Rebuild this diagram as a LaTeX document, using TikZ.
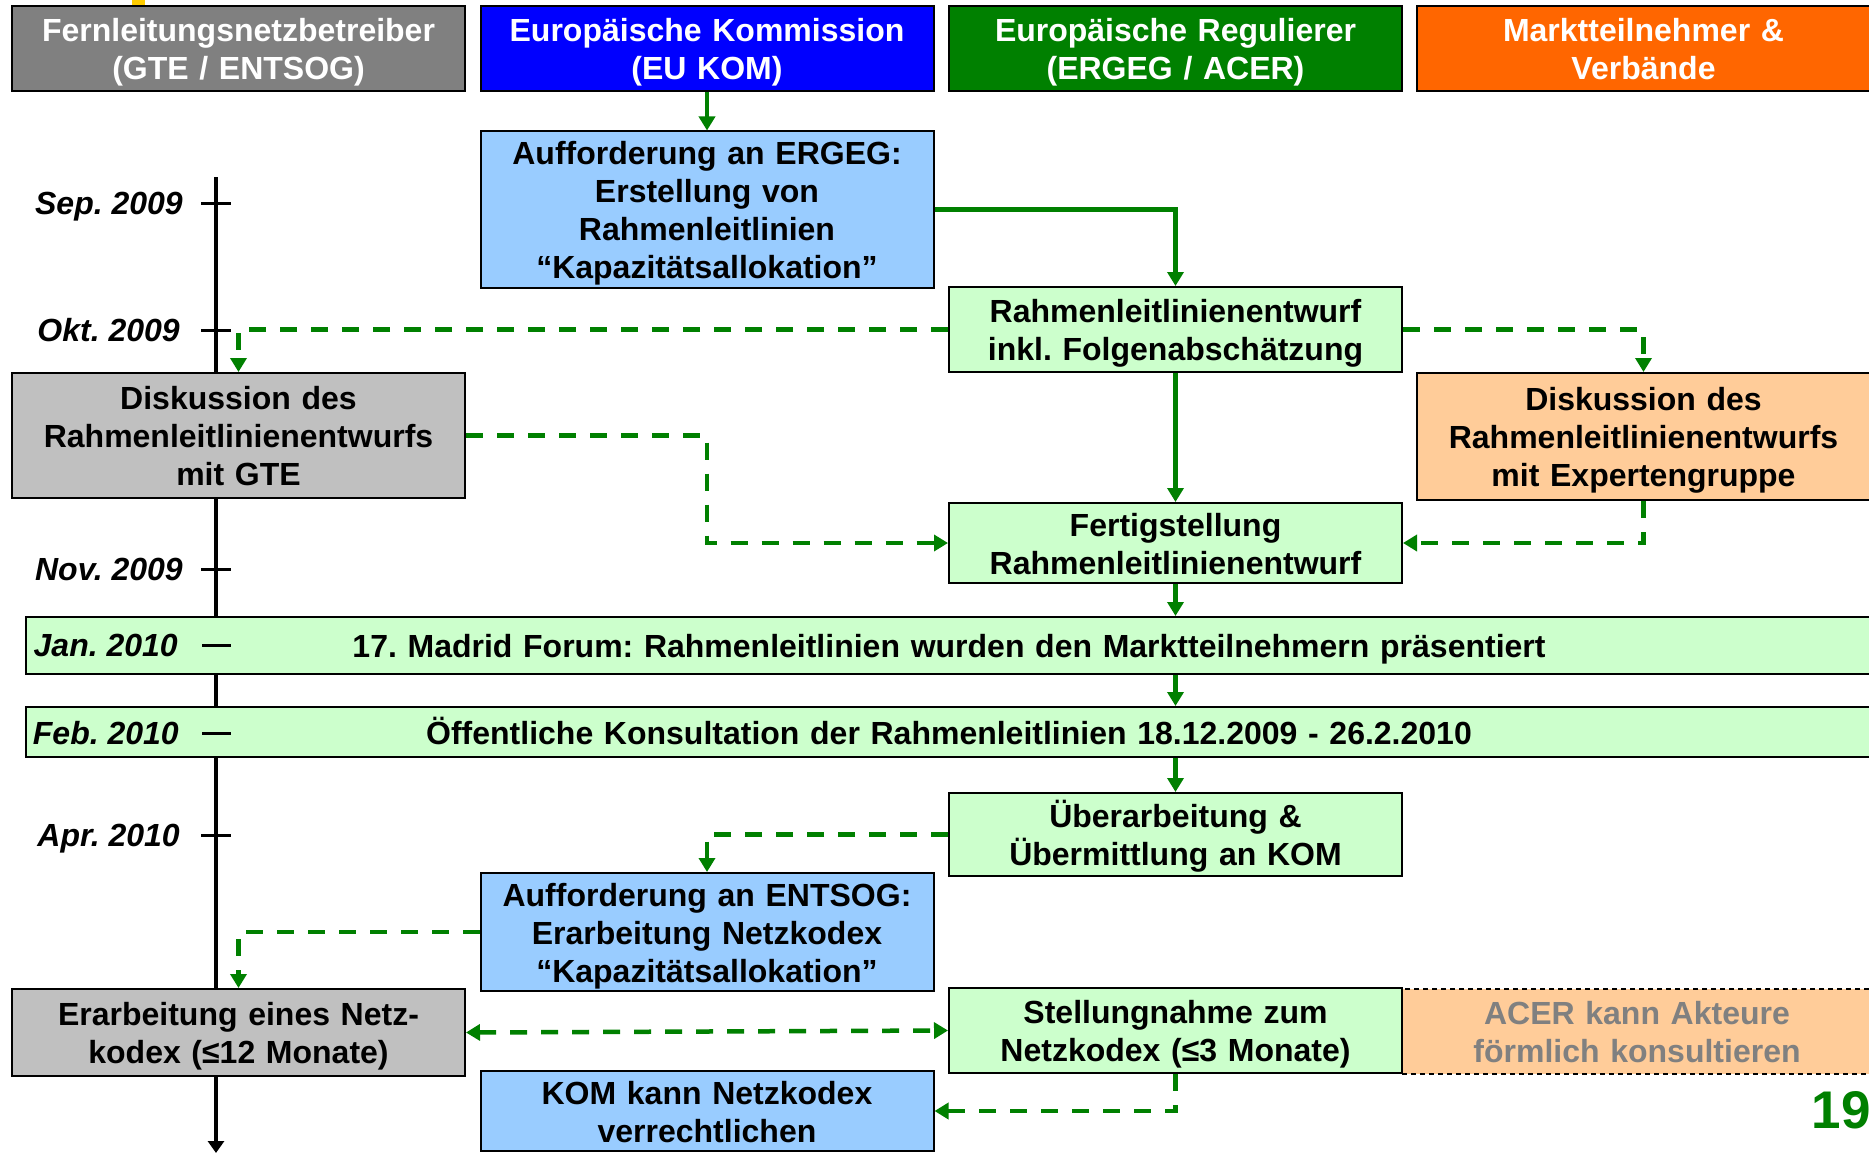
\documentclass[tikz,border=0pt]{standalone}
\usepackage{fontspec}
\setmainfont{Liberation Sans}
\usetikzlibrary{arrows.meta}
\definecolor{grau}{HTML}{808080}
\definecolor{hellgrau}{HTML}{C0C0C0}
\definecolor{blau}{HTML}{0000FF}
\definecolor{hellblau}{HTML}{99CCFF}
\definecolor{gruen}{HTML}{008000}
\definecolor{hellgruen}{HTML}{CCFFCC}
\definecolor{dunkelorange}{HTML}{FF6600}
\definecolor{hellorange}{HTML}{FFCC99}
\definecolor{gelb}{HTML}{FFCC00}
\frenchspacing
\tikzset{
  kasten/.style={draw=black, line width=2pt, minimum width=453pt, text width=453pt, align=center,
    inner sep=0pt, font=\bfseries\fontsize{32}{38}\selectfont,
    execute at begin node={\noindent\rule{0pt}{33pt}},
    execute at end node={\rule[-9pt]{0pt}{9pt}}},
  kopf/.style={kasten, text=white, minimum height=85pt},
  balken/.style={kasten, fill=hellgruen, minimum width=1846pt, text width=1846pt},
  pfeil/.style={gruen, line width=4.5pt, >={Triangle[width=16pt,length=14pt]}},
  strich/.style={pfeil, dash pattern=on 17pt off 14pt},
  datum/.style={anchor=base east, inner sep=0pt, font=\bfseries\itshape\fontsize{32}{38}\selectfont},
  marke/.style={line width=3pt},
}
\begin{document}
\begin{tikzpicture}[x=1pt,y=-1pt]
    \useasboundingbox (0,0) rectangle (1869,1153);
    \clip (0,0) rectangle (1869,1153);
    \fill[gelb] (132,0) rectangle (145,5);
    \node[kopf, fill=grau] (kopfFNB) at (238.5,48.5) {Fernleitungsnetzbetreiber\\(GTE / ENTSOG)};
    \node[kopf, fill=blau] (kopfKOM) at (707,48.5) {Europäische Kommission\\(EU KOM)};
    \node[kopf, fill=gruen] (kopfREG) at (1175.5,48.5) {Europäische Regulierer\\(ERGEG / ACER)};
    \node[kopf, fill=dunkelorange] (kopfMT) at (1643.5,48.5) {Marktteilnehmer \&\\Verbände};
    % Zeitachse
    \coordinate (zeitA) at (216,177);
    \coordinate (zeitE) at (216,1153);
    \draw[line width=4pt,-{Triangle[width=16pt,length=12pt]}] (zeitA) -- (zeitE);
    \foreach \x/\y/\t in {183/203/Sep. 2009, 180/330/Okt. 2009, 183/569/Nov. 2009, 180/835/Apr. 2010}{
        \draw[marke] (201,\y) -- (231,\y);
        \node[datum] (d\y) at (\x,\y+11.5) {\t};
    }
    \node[kasten, fill=hellblau, minimum height=155pt] (ergeg) at (707,209.5) {Aufforderung an ERGEG:\\Erstellung von\\Rahmenleitlinien\\“Kapazitätsallokation”};
    \node[kasten, fill=hellgruen, minimum height=85pt] (entwurf) at (1175.5,329.5) {Rahmenleitlinienentwurf\\inkl. Folgenabschätzung};
    \node[kasten, fill=hellgrau, minimum height=125pt] (diskGTE) at (238.5,435.5) {Diskussion des\\Rahmenleitlinienentwurfs\\mit GTE};
    \node[kasten, fill=hellorange, minimum height=127pt] (diskEXP) at (1643.5,436.5) {Diskussion des\\Rahmenleitlinienentwurfs\\mit Expertengruppe};
    \node[kasten, fill=hellgruen, minimum height=78pt] (fertig) at (1175.5,543) {Fertigstellung\\Rahmenleitlinienentwurf};
    \node[balken, minimum height=57pt] (forum) at (949,645.5) {17. Madrid Forum: Rahmenleitlinien wurden den Marktteilnehmern präsentiert};
    \node[balken, minimum height=50pt] (konsult) at (949,732) {Öffentliche Konsultation der Rahmenleitlinien 18.12.2009 - 26.2.2010};
    \node[datum] (dJan) at (178,656.5) {Jan. 2010};
    \draw[marke] (202,645) -- (231,645);
    \node[datum] (dFeb) at (179,744.5) {Feb. 2010};
    \draw[marke] (202,733) -- (231,733);
    \node[kasten, fill=hellgruen, minimum height=83pt] (ueber) at (1175.5,834.5) {Überarbeitung \&\\Übermittlung an KOM};
    \node[kasten, fill=hellblau, minimum height=112pt] (entsog) at (707,932) {Aufforderung an ENTSOG:\\Erarbeitung Netzkodex\\“Kapazitätsallokation”};
    \node[kasten, fill=hellgrau, minimum height=87pt] (netzkodex) at (238.5,1032.5) {Erarbeitung eines Netz-\\kodex (≤12 Monate)};
    \node[kasten, fill=hellorange, text=grau, line width=1.5pt, dash pattern=on 5pt off 4pt,
        minimum width=470pt, text width=470pt, minimum height=85pt] (acer) at (1637,1031.5) {ACER kann Akteure\\förmlich konsultieren};
    \node[kasten, fill=hellgruen, minimum height=85pt] (stellung) at (1175.5,1030.5) {Stellungnahme zum\\Netzkodex (≤3 Monate)};
    \node[kasten, fill=hellblau, minimum height=72pt] (kom) at (707,1111) {KOM kann Netzkodex\\verrechtlichen};
    \node[anchor=base east, inner sep=0pt, text=gruen, font=\bfseries\fontsize{53}{60}\selectfont] (seite) at (1871,1128) {19};
    % Pfeile
    \draw[pfeil,->] (kopfKOM) -- (ergeg);
    \draw[pfeil,->] (ergeg.east) -| (entwurf.north);
    \draw[pfeil,->] (entwurf) -- (fertig);
    \draw[pfeil,->] (fertig.south) -- (fertig.south |- forum.north);
    \draw[pfeil,->] (fertig.south |- forum.south) -- (fertig.south |- konsult.north);
    \draw[pfeil,->] (ueber.north |- konsult.south) -- (ueber.north);
    \draw[strich,->] (entwurf.west) -| (diskGTE.north);
    \draw[strich,->] (entwurf.east) -| (diskEXP.north);
    \draw[strich,->] (diskGTE.east) -| (ergeg.south |- fertig.west) -- (fertig.west);
    \draw[strich,->] (diskEXP.south) |- (fertig.east);
    \draw[strich,->] (ueber.west) -| (entsog.north);
    \draw[strich,->] (entsog.west) -| (netzkodex.north);
    \draw[strich,<->] (netzkodex.east) -- (stellung.west);
    \draw[strich,->] (stellung.south) |- (kom.east);
\end{tikzpicture}
\end{document}
